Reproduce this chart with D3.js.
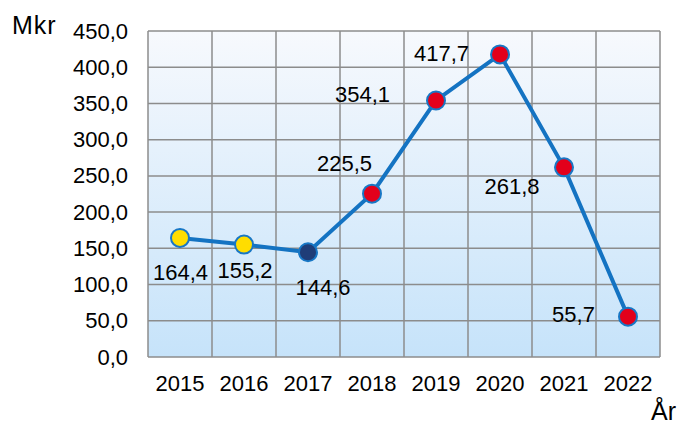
<!DOCTYPE html>
<html>
<head>
<meta charset="utf-8">
<script src="https://cdn.jsdelivr.net/npm/d3@7"></script>
<style>
  body { margin: 0; background: #fff; }
  text { font-family: "Liberation Sans", Arial, sans-serif; fill: #000; }
</style>
</head>
<body>
<div id="chart"></div>
<script>
// Data
var years = ["2015", "2016", "2017", "2018", "2019", "2020", "2021", "2022"];
var values = [164.4, 155.2, 144.6, 225.5, 354.1, 417.7, 261.8, 55.7];
var pointColors = ["#ffdd00", "#ffdd00", "#1f3d78", "#e3001b", "#e3001b", "#e3001b", "#e3001b", "#e3001b"];
var yTicks = [0, 50, 100, 150, 200, 250, 300, 350, 400, 450];

// label offsets from the point (dx to centre, dy to baseline)
var labelOffsets = [[0.5, 42], [1, 33.5], [15, 43], [-27.5, -23], [-73.5, 2], [-58.5, 7], [-52, 27], [-54.5, 5.5]];

var svgWidth = 680, svgHeight = 424;
var margin = { top: 31, left: 148 };
var width = 660 - margin.left;
var height = 357 - margin.top;

var svg = d3.select("#chart").append("svg")
  .attr("width", svgWidth)
  .attr("height", svgHeight);

var grad = svg.append("defs").append("linearGradient")
  .attr("id", "bg").attr("x1", 0).attr("y1", 0).attr("x2", 0).attr("y2", 1);
grad.append("stop").attr("offset", "0%").attr("stop-color", "#f7f9fd");
grad.append("stop").attr("offset", "100%").attr("stop-color", "#c6e3fa");

var chartGroup = svg.append("g")
  .attr("transform", `translate(${margin.left}, ${margin.top})`);

var xScale = d3.scaleBand().domain(years).range([0, width]);
var yScale = d3.scaleLinear().domain([0, 450]).range([height, 0]);
var fmt = d => d3.format(".1f")(d).replace(".", ",");

// background
chartGroup.append("rect")
  .attr("width", width).attr("height", height)
  .attr("fill", "url(#bg)");

// grid
chartGroup.selectAll("line.hgrid")
  .data(yTicks).enter().append("line")
  .attr("class", "hgrid")
  .attr("x1", 0).attr("x2", width)
  .attr("y1", d => yScale(d)).attr("y2", d => yScale(d))
  .attr("stroke", "#8c8c8c").attr("stroke-width", 1.5);

chartGroup.selectAll("line.vgrid")
  .data(years.concat(["end"])).enter().append("line")
  .attr("class", "vgrid")
  .attr("x1", (d, i) => i * xScale.step()).attr("x2", (d, i) => i * xScale.step())
  .attr("y1", 0).attr("y2", height)
  .attr("stroke", "#8c8c8c").attr("stroke-width", 1.5);

// axes
var leftAxis = d3.axisLeft(yScale).tickValues(yTicks)
  .tickFormat(fmt)
  .tickSize(0).tickPadding(20);
var axL = chartGroup.append("g").call(leftAxis);
axL.select(".domain").remove();
axL.selectAll("text").style("font-size", "22px").attr("font-family", null);

var bottomAxis = d3.axisBottom(xScale).tickSize(0).tickPadding(18);
var axB = chartGroup.append("g")
  .attr("transform", `translate(0, ${height})`)
  .call(bottomAxis);
axB.select(".domain").remove();
axB.selectAll("text").style("font-size", "22px");
axL.attr("font-family", null);
axB.attr("font-family", null);

// line
var line = d3.line()
  .x((d, i) => xScale(years[i]) + xScale.bandwidth() / 2)
  .y(d => yScale(d));

chartGroup.append("path")
  .datum(values)
  .attr("d", line)
  .attr("fill", "none")
  .attr("stroke", "#1473c2")
  .attr("stroke-width", 4);

// points
chartGroup.selectAll("circle")
  .data(values).enter().append("circle")
  .attr("cx", (d, i) => xScale(years[i]) + xScale.bandwidth() / 2)
  .attr("cy", d => yScale(d))
  .attr("r", 9)
  .attr("fill", (d, i) => pointColors[i])
  .attr("stroke", "#1877c5")
  .attr("stroke-width", 2);

// data labels
chartGroup.selectAll("text.lbl")
  .data(values).enter().append("text")
  .attr("class", "lbl")
  .attr("x", (d, i) => xScale(years[i]) + xScale.bandwidth() / 2 + labelOffsets[i][0])
  .attr("y", (d, i) => yScale(d) + labelOffsets[i][1])
  .attr("text-anchor", "middle")
  .style("font-size", "22px")
  .text(fmt);

// axis titles
svg.append("text").attr("x", 12).attr("y", 34)
  .style("font-size", "25px").style("letter-spacing", "1px").text("Mkr");
svg.append("text").attr("x", 651).attr("y", 420)
  .style("font-size", "25px").text("År");
</script>
</body>
</html>
